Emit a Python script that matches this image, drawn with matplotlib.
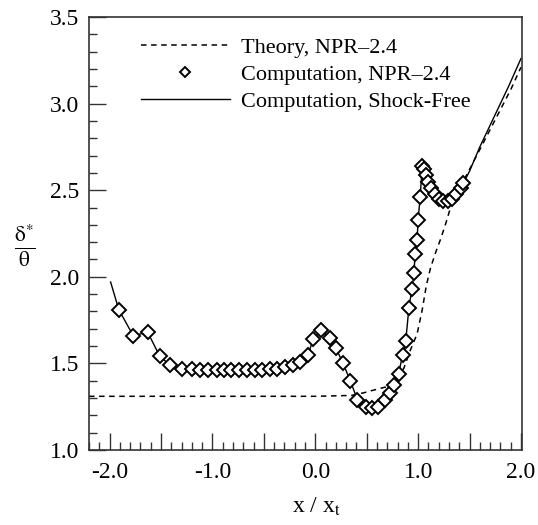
import matplotlib
matplotlib.use("Agg")
import matplotlib.pyplot as plt
from matplotlib.ticker import MultipleLocator, FixedLocator, FixedFormatter

plt.rcParams['font.family'] = ['Liberation Serif', 'DejaVu Serif']
plt.rcParams['mathtext.fontset'] = 'stix'

# ---- data ----
theory_x = [-2.2, -1.5, -1.0, -0.5, 0.0, 0.35, 0.47, 0.53, 0.66, 0.73, 0.79, 0.86, 0.92,
            0.99, 1.04, 1.08, 1.12, 1.17, 1.22, 1.27, 1.31, 1.34, 1.5, 1.7, 1.9, 2.0]
theory_y = [1.31, 1.31, 1.31, 1.31, 1.31, 1.315, 1.33, 1.34, 1.36, 1.37, 1.42, 1.47, 1.57,
            1.67, 1.81, 1.95, 2.05, 2.14, 2.22, 2.31, 2.39, 2.44, 2.62, 2.85, 3.08, 3.21]

comp_x = [-1.91, -1.77, -1.63, -1.51, -1.41, -1.30, -1.20, -1.12, -1.04, -0.96, -0.89,
          -0.82, -0.74, -0.66, -0.59, -0.52, -0.44, -0.37, -0.29, -0.22, -0.15, -0.07,
          -0.02, 0.06, 0.14, 0.20, 0.27, 0.34, 0.41, 0.49, 0.55, 0.61, 0.68, 0.73, 0.77,
          0.81, 0.85, 0.88, 0.91, 0.94, 0.96, 0.97, 0.99, 1.00, 1.02, 1.04, 1.06, 1.08,
          1.10, 1.13, 1.16, 1.20, 1.24, 1.29, 1.33, 1.37, 1.42, 1.44]
comp_y = [1.81, 1.66, 1.68, 1.54, 1.49, 1.47, 1.465, 1.46, 1.46, 1.46, 1.46,
          1.46, 1.46, 1.46, 1.46, 1.46, 1.465, 1.47, 1.48, 1.49, 1.51, 1.55,
          1.64, 1.69, 1.645, 1.59, 1.50, 1.40, 1.29, 1.25, 1.24, 1.25, 1.29, 1.33, 1.375,
          1.44, 1.55, 1.63, 1.82, 1.93, 2.02, 2.13, 2.21, 2.33, 2.46, 2.64, 2.62, 2.59,
          2.55, 2.51, 2.48, 2.45, 2.435, 2.435, 2.45, 2.48, 2.51, 2.54]

free_x = [-1.99] + comp_x + [1.50, 1.60, 1.76, 1.88, 2.0]
free_y = [1.97] + comp_y + [2.61, 2.75, 2.95, 3.10, 3.26]

xtick_vals = [-2.0, -1.0, 0.0, 1.0, 2.0]
xtick_labels = ['-2.0', '-1.0', '0.0', '1.0', '2.0']
ytick_vals = [1.0, 1.5, 2.0, 2.5, 3.0, 3.5]
ytick_labels = ['1.0', '1.5', '2.0', '2.5', '3.0', '3.5']

fig = plt.figure(figsize=(5.38, 5.25), dpi=100)
ax = fig.add_axes([89/538, 75/525, 433/538, 433/525])

ax.plot(theory_x, theory_y, color='black', lw=1.1, dashes=(3.6, 3.0),
        label='Theory, NPR\u20132.4')
ax.plot(comp_x, comp_y, linestyle='none', marker='D', markersize=6.8,
        markerfacecolor='white', markeredgecolor='black', markeredgewidth=1.4,
        label='Computation, NPR\u20132.4')
ax.plot(free_x, free_y, color='black', lw=1.0, label='Computation, Shock-Free', zorder=1)

ax.set_xlim(-2.2, 2.01)
ax.set_ylim(1.0, 3.5)

ax.xaxis.set_major_locator(MultipleLocator(0.5))
ax.xaxis.set_minor_locator(MultipleLocator(0.1))
ax.xaxis.set_major_formatter(plt.FuncFormatter(
    lambda v, p: xtick_labels[xtick_vals.index(round(v, 1))] if round(v, 1) in xtick_vals else ''))
ax.yaxis.set_major_locator(FixedLocator(ytick_vals))
ax.yaxis.set_major_formatter(FixedFormatter(ytick_labels))
ax.yaxis.set_minor_locator(MultipleLocator(0.1))

ax.tick_params(which='both', direction='in', top=False, right=False, width=1.0, color='#333333')
ax.tick_params(which='major', length=12.5)
ax.tick_params(which='minor', length=6)
ax.tick_params(axis='x', which='major', labelsize=17, pad=9)
ax.tick_params(axis='y', which='major', labelsize=17, pad=7)

for s in ax.spines.values():
    s.set_linewidth(1.2)
    s.set_color('#333333')

ax.set_xlabel(r'x / x$_\mathrm{t}$', fontsize=17, va='center')
ax.xaxis.set_label_coords((316-89)/433, (450-507)/433)
ax.set_ylabel(r'$\frac{\mathrm{\delta}^{*}}{\mathrm{\theta}}$', fontsize=22, rotation=0,
              ha='center', va='center')
ax.yaxis.set_label_coords((25-89)/433, (450-246)/433)

leg = ax.legend(loc='upper left', bbox_to_anchor=((141-89)/433, (450-37)/433),
                frameon=False, fontsize=16, handlelength=4.0, handletextpad=0.5,
                borderpad=0, borderaxespad=0, labelspacing=0.3, markerscale=0.7)

fig.savefig('out.png', dpi=100)
